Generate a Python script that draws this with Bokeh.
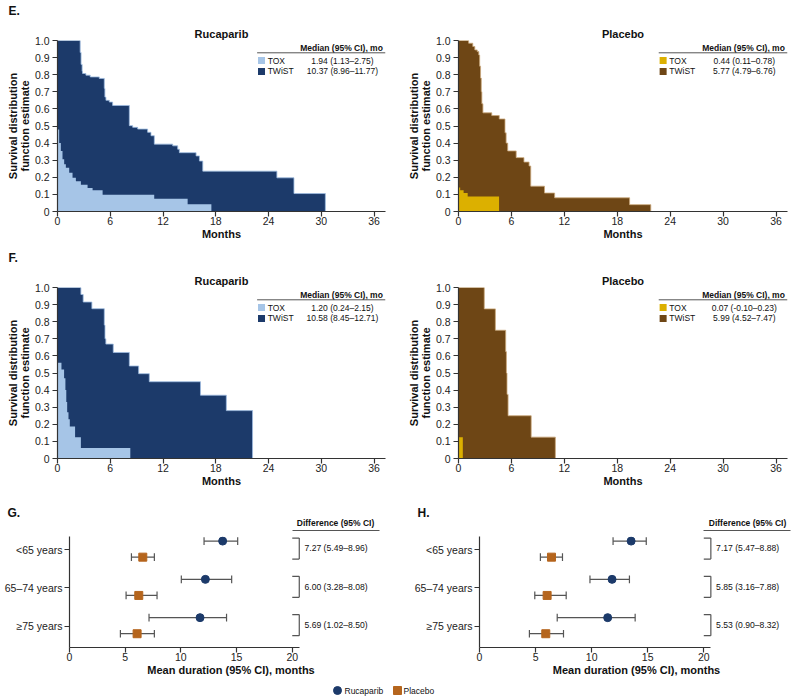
import numpy as np
from bokeh.plotting import figure
from bokeh.models import Range1d, FixedTicker, PrintfTickFormatter
from bokeh.layouts import row, column
from bokeh.embed import file_html
from bokeh.resources import INLINE
from bokeh.core.properties import value

FONT = "Liberation Sans"
NAVY = "#1c3a6a"
LIGHT = "#a6c5e7"
NAVY_EDGE = "#9dbbe0"
BROWN = "#6e4615"
GOLD = "#dcb000"
BROWN_EDGE = "#c9a77a"
ORANGE = "#b5651d"
AXIS = "#333333"
TXT = "#111111"

# ---------------- data ----------------
month_ticks = [0, 6, 12, 18, 24, 30, 36]
surv_ticks = [0, 0.1, 0.2, 0.3, 0.4, 0.5, 0.6, 0.7, 0.8, 0.9, 1.0]

# E. Rucaparib
e_ruc_twist_t = [0, 2.58, 2.68, 2.8, 2.85, 3.23, 3.72, 4.75, 5.32, 5.39, 5.51, 5.89, 6.27,
                 8.17, 8.55, 9.12, 10.25, 10.63, 11.01, 13.1, 13.67, 13.86, 15.76, 16.14,
                 16.52, 24.95, 26.89, 30.46]
e_ruc_twist_s = [1.0, 0.93, 0.86, 0.82, 0.807, 0.797, 0.787, 0.778, 0.72, 0.669, 0.65, 0.64, 0.62,
                 0.502, 0.492, 0.482, 0.463, 0.443, 0.394, 0.384, 0.364, 0.344, 0.325, 0.295,
                 0.236, 0.197, 0.105, 0.0]
e_ruc_tox_t = [0, 0.19, 0.38, 0.57, 0.76, 0.95, 1.33, 1.71, 2.09, 2.66, 3.42, 3.99, 5.13,
               11.0, 14.8, 17.5]
e_ruc_tox_s = [0.48, 0.40, 0.354, 0.305, 0.276, 0.256, 0.226, 0.197, 0.177, 0.157, 0.138,
               0.124, 0.098, 0.075, 0.042, 0.0]
e_ruc_median = ["1.94 (1.13\u20132.75)", "10.37 (8.96\u201311.77)"]

# E. Placebo
e_pla_twist_t = [0, 1.15, 1.62, 1.85, 2.12, 2.3, 2.4, 2.5, 2.58, 2.65, 2.77, 3.77, 4.62,
                 5.27, 5.4, 5.58, 6.54, 7.42, 8.0, 8.19, 9.75, 10.9, 19.4, 21.8]
e_pla_twist_s = [1.0, 0.984, 0.965, 0.945, 0.935, 0.915, 0.85, 0.78, 0.70, 0.63, 0.577, 0.561,
                 0.541, 0.46, 0.40, 0.354, 0.315, 0.289, 0.266, 0.148, 0.108, 0.08, 0.04, 0.0]
e_pla_tox_t = [0, 0.19, 0.58, 1.04, 4.6]
e_pla_tox_s = [0.14, 0.124, 0.108, 0.088, 0.0]
e_pla_median = ["0.44 (0.11\u20130.78)", "5.77 (4.79\u20136.76)"]

# F. Rucaparib
f_ruc_twist_t = [0, 2.66, 2.92, 3.91, 5.32, 5.4, 5.5, 6.34, 8.17, 9.23, 10.44, 16.26, 19.2, 22.18]
f_ruc_twist_s = [1.0, 0.959, 0.915, 0.876, 0.78, 0.70, 0.669, 0.62, 0.541, 0.496, 0.449, 0.37, 0.28, 0.0]
f_ruc_tox_t = [0, 0.45, 0.75, 0.9, 1.0, 1.1, 1.25, 1.4, 2.0, 2.66, 8.28]
f_ruc_tox_s = [0.56, 0.52, 0.47, 0.40, 0.33, 0.27, 0.23, 0.187, 0.124, 0.061, 0.0]
f_ruc_median = ["1.20 (0.24\u20132.15)", "10.58 (8.45\u201312.71)"]

# F. Placebo
f_pla_twist_t = [0, 2.92, 4.18, 5.35, 5.43, 5.5, 5.62, 8.24, 10.98]
f_pla_twist_s = [1.0, 0.875, 0.75, 0.625, 0.5, 0.375, 0.25, 0.125, 0.0]
f_pla_tox_t = [0, 0.49]
f_pla_tox_s = [0.125, 0.0]
f_pla_median = ["0.07 (-0.10\u20130.23)", "5.99 (4.52\u20137.47)"]

legend_groups = ["TOX", "TWiST"]

# G / H forest data
age_groups = ["<65 years", "65\u201374 years", "\u226575 years"]
age_pos = [3, 2, 1]
dur_ticks = [0, 5, 10, 15, 20]

g_ruc_mean = [13.75, 12.2, 11.72]
g_ruc_lo = [12.08, 10.04, 7.14]
g_ruc_hi = [15.1, 14.56, 14.1]
g_pla_mean = [6.58, 6.22, 6.07]
g_pla_lo = [5.56, 5.08, 4.57]
g_pla_hi = [7.62, 7.86, 7.62]
g_diff = ["7.27 (5.49\u20138.96)", "6.00 (3.28\u20138.08)", "5.69 (1.02\u20138.50)"]

h_ruc_mean = [13.52, 11.82, 11.43]
h_ruc_lo = [11.91, 9.85, 6.93]
h_ruc_hi = [14.87, 13.37, 13.88]
h_pla_mean = [6.42, 6.03, 5.91]
h_pla_lo = [5.43, 4.93, 4.45]
h_pla_hi = [7.4, 7.73, 7.49]
h_diff = ["7.17 (5.47\u20138.88)", "5.85 (3.16\u20137.88)", "5.53 (0.90\u20138.32)"]

arms = ["Rucaparib", "Placebo"]
panel_letters = ["E.", "F.", "G.", "H."]
diff_header = "Difference (95% CI)"

PAGE_W = 793


# ---------------- helpers ----------------
def step_xy(t, s):
    t = np.asarray(t, float)
    s = np.asarray(s, float)
    return np.repeat(t, 2)[1:], np.repeat(s, 2)[:-1]


def style_axes(p):
    p.outline_line_color = None
    p.grid.visible = False
    for ax in p.axis:
        ax.axis_line_color = AXIS
        ax.axis_line_width = 1.2
        ax.major_tick_line_color = AXIS
        ax.major_tick_line_width = 1.2
        ax.major_tick_in = 0
        ax.major_tick_out = 5
        ax.minor_tick_line_color = None
        ax.major_label_text_font = FONT
        ax.major_label_text_font_size = "10.5px"
        ax.major_label_text_color = "#222222"
        ax.major_label_standoff = 0
        ax.axis_label_text_font = FONT
        ax.axis_label_text_font_size = "11px"
        ax.axis_label_text_font_style = "bold"
        ax.axis_label_text_color = TXT
        ax.axis_label_standoff = 0


def strip(top, height):
    """Full-width band whose coordinates are page pixels (for panel letters / headers)."""
    p = figure(width=PAGE_W, height=height, x_range=Range1d(0, PAGE_W),
               y_range=Range1d(top + height, top), output_backend="svg", toolbar_location=None,
               x_axis_location=None, y_axis_location=None,
               min_border_left=0, min_border_right=0, min_border_top=0, min_border_bottom=0)
    p.outline_line_color = None
    p.grid.visible = False
    return p


def letter(p, x, y, txt):
    p.text([x], [y], text=[txt], text_font=value(FONT), text_font_size="12px",
           text_font_style="bold", text_baseline="middle", text_color=TXT)


def km_panel(title, twist_t, twist_s, tox_t, tox_s, dark, light, edge, medians,
             width, height, bl, br, bt, bb):
    p = figure(width=width, height=height, x_range=Range1d(0, 37.3), y_range=Range1d(0, 1.0),
               output_backend="svg", toolbar_location=None,
               min_border_left=bl, min_border_right=br, min_border_top=bt, min_border_bottom=bb)
    style_axes(p)
    p.title.text = title
    p.title.align = "center"
    p.title.text_font = FONT
    p.title.text_font_size = "11px"
    p.title.text_font_style = "bold"
    p.title.text_color = TXT
    p.title.standoff = 2
    p.xaxis.ticker = FixedTicker(ticks=month_ticks)
    p.yaxis.ticker = FixedTicker(ticks=surv_ticks)
    p.yaxis.formatter = PrintfTickFormatter(format="%.1f")
    p.yaxis.major_label_overrides = {0: "0"}
    p.yaxis.major_label_standoff = 3
    p.yaxis.axis_label_standoff = 1
    p.yaxis.axis_label_text_line_height = 0.95
    p.xaxis.axis_label = "Months"
    p.yaxis.axis_label = "Survival distribution\nfunction estimate"

    tx, ty = step_xy(twist_t, twist_s)
    p.patch(np.append(tx, 0), np.append(ty, 0), fill_color=dark, line_color=None)
    p.line(tx, ty, line_color=edge, line_width=0.8)
    ox, oy = step_xy(tox_t, tox_s)
    p.patch(np.append(ox, 0), np.append(oy, 0), fill_color=light, line_color=None)

    # table-style legend
    p.text([37.0], [0.959], text=["Median (95% CI), mo"], text_font=value(FONT),
           text_font_size="8.5px", text_font_style="bold", text_align="right",
           text_baseline="middle", text_color=TXT)
    p.segment(x0=[22.7], y0=[0.928], x1=[37.3], y1=[0.928], line_color="#555555", line_width=1)
    ys = [0.883, 0.819]
    p.scatter([23.2, 23.2], ys, marker="square", size=7, fill_color=[light, dark], line_color=None)
    p.text([23.9, 23.9], ys, text=legend_groups, text_font=value(FONT), text_font_size="8.5px",
           text_baseline="middle", text_color=TXT)
    p.text([32.4, 32.4], ys, text=medians, text_font=value(FONT), text_font_size="8.5px",
           text_baseline="middle", text_align="center", text_color=TXT)
    return p


def forest_panel(r_mean, r_lo, r_hi, p_mean, p_lo, p_hi, diffs, width, height, bl, br, bt, bb, xmax):
    p = figure(width=width, height=height, x_range=Range1d(0, xmax), y_range=Range1d(0.44, 3.34),
               output_backend="svg", toolbar_location=None,
               min_border_left=bl, min_border_right=br, min_border_top=bt, min_border_bottom=bb)
    style_axes(p)
    p.xaxis.ticker = FixedTicker(ticks=dur_ticks)
    p.xaxis.bounds = (0, 20.63)
    p.yaxis.ticker = FixedTicker(ticks=age_pos)
    p.yaxis.major_label_overrides = {pos: lab for pos, lab in zip(age_pos, age_groups)}
    p.yaxis.major_label_standoff = 2
    p.xaxis.axis_label = "Mean duration (95% CI), months"

    pos = np.array(age_pos, float)
    yr = pos + 0.22
    yp = pos - 0.2
    cap = 0.1
    for y, lo, hi in ((yr, r_lo, r_hi), (yp, p_lo, p_hi)):
        p.segment(x0=lo, y0=y, x1=hi, y1=y, line_color="#555555", line_width=1.2)
        p.segment(x0=lo, y0=y - cap, x1=lo, y1=y + cap, line_color="#555555", line_width=1.2)
        p.segment(x0=hi, y0=y - cap, x1=hi, y1=y + cap, line_color="#555555", line_width=1.2)
    p.scatter(r_mean, yr, marker="circle", size=8, fill_color=NAVY, line_color=NAVY)
    p.scatter(p_mean, yp, marker="square", size=8, fill_color=ORANGE, line_color=ORANGE)

    # difference column brackets + values
    bx0, bx1 = 20.0, 20.63
    p.segment(x0=[bx1] * 3, y0=pos + 0.3, x1=[bx1] * 3, y1=pos - 0.25, line_color="#555555", line_width=1.2)
    p.segment(x0=[bx0] * 3, y0=pos + 0.3, x1=[bx1] * 3, y1=pos + 0.3, line_color="#555555", line_width=1.2)
    p.segment(x0=[bx0] * 3, y0=pos - 0.25, x1=[bx1] * 3, y1=pos - 0.25, line_color="#555555", line_width=1.2)
    p.text([21.1] * 3, pos + 0.03, text=diffs, text_font=value(FONT), text_font_size="8.6px",
           text_baseline="middle", text_color=TXT)
    return p


# ---------------- layout (page pixel bands) ----------------
s_e = strip(0, 21)
letter(s_e, 8, 10, panel_letters[0])

e1 = km_panel("Rucaparib", e_ruc_twist_t, e_ruc_twist_s, e_ruc_tox_t, e_ruc_tox_s, NAVY, LIGHT, NAVY_EDGE,
              e_ruc_median, 400, 222, 57, 15, 19, 32)
e2 = km_panel("Placebo", e_pla_twist_t, e_pla_twist_s, e_pla_tox_t, e_pla_tox_s, BROWN, GOLD, BROWN_EDGE,
              e_pla_median, 393, 222, 58, 6, 19, 32)

s_f = strip(243, 25)
letter(s_f, 8, 257, panel_letters[1])

f1 = km_panel("Rucaparib", f_ruc_twist_t, f_ruc_twist_s, f_ruc_tox_t, f_ruc_tox_s, NAVY, LIGHT, NAVY_EDGE,
              f_ruc_median, 400, 222, 57, 15, 19, 32)
f2 = km_panel("Placebo", f_pla_twist_t, f_pla_twist_s, f_pla_tox_t, f_pla_tox_s, BROWN, GOLD, BROWN_EDGE,
              f_pla_median, 393, 222, 58, 6, 19, 32)

s_g = strip(490, 42)
letter(s_g, 7, 512, panel_letters[2])
letter(s_g, 417, 512, panel_letters[3])
s_g.text([335, 747], [522, 522], text=[diff_header, diff_header], text_font=value(FONT),
         text_font_size="8.5px", text_font_style="bold", text_align="center",
         text_baseline="middle", text_color=TXT)
s_g.segment(x0=[292, 703], y0=[530, 530], x1=[379, 790], y1=[530, 530], line_color="#555555", line_width=1)

g = forest_panel(g_ruc_mean, g_ruc_lo, g_ruc_hi, g_pla_mean, g_pla_lo, g_pla_hi, g_diff,
                 400, 147, 69, 8, 4, 32, 29.0)
h = forest_panel(h_ruc_mean, h_ruc_lo, h_ruc_hi, h_pla_mean, h_pla_lo, h_pla_hi, h_diff,
                 393, 147, 79, 0, 4, 32, 28.0)

lg = strip(679, 18)
lg.scatter([337], [690], marker="circle", size=8, fill_color=NAVY, line_color=NAVY)
lg.scatter([397], [690], marker="square", size=8, fill_color=ORANGE, line_color=ORANGE)
lg.text([344, 403], [690, 690], text=arms, text_font=value(FONT), text_font_size="8.5px",
        text_baseline="middle", text_color=TXT)

layout = column(s_e, row(e1, e2), s_f, row(f1, f2), s_g, row(g, h), lg)

open("out.html", "w").write(file_html(layout, INLINE))
